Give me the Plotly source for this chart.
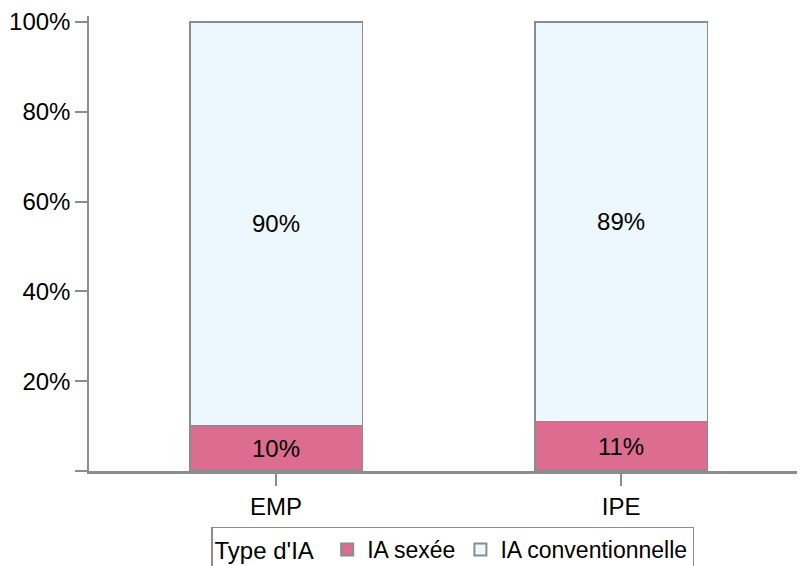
import plotly.graph_objects as go

# Data
categories = ['EMP', 'IPE']
ia_sexee = [10, 11]
ia_conventionnelle = [90, 89]
series_names = ['IA sexée', 'IA conventionnelle']
y_ticks = [0, 20, 40, 60, 80, 100]
y_tick_labels = ['', '20%', '40%', '60%', '80%', '100%']

FONT = 'Liberation Sans, Arial, sans-serif'
GREY = '#8c8c8c'

fig = go.Figure()

fig.add_trace(go.Bar(
    x=categories,
    y=ia_sexee,
    name=series_names[0],
    marker=dict(color='#DC6D90', line=dict(color=GREY, width=1.5)),
    text=[f'{v}%' for v in ia_sexee],
    textposition='inside',
    insidetextanchor='middle',
    textfont=dict(color='black', size=24, family=FONT),
    width=0.5
))

fig.add_trace(go.Bar(
    x=categories,
    y=ia_conventionnelle,
    name=series_names[1],
    marker=dict(color='#ECF7FE', line=dict(color=GREY, width=1.5)),
    text=[f'{v}%' for v in ia_conventionnelle],
    textposition='inside',
    insidetextanchor='middle',
    textfont=dict(color='black', size=24, family=FONT),
    width=0.5
))

# the page body adds an 8px margin, so the figure is 8px smaller than the window
fig.update_layout(
    barmode='stack',
    width=797,
    height=558,
    margin=dict(l=81, r=0, t=8, b=94.5, autoexpand=False),
    paper_bgcolor='white',
    plot_bgcolor='white',
    font=dict(family=FONT, size=24, color='black'),
    showlegend=True,
    legend=dict(
        orientation='h',
        x=0.5077,
        xanchor='center',
        y=-0.122,
        yanchor='top',
        title=dict(text="Type d'IA ", font=dict(size=24)),
        font=dict(size=23),
        bordercolor=GREY,
        borderwidth=1.5,
        traceorder='normal',
        itemsizing='constant',
        tracegroupgap=0
    ),
    uniformtext=dict(minsize=24, mode='show'),
    xaxis=dict(
        range=[-0.542, 1.533],
        automargin=False,
        showline=True,
        linecolor=GREY,
        linewidth=2.5,
        ticks='outside',
        ticklen=12,
        tickcolor=GREY,
        tickwidth=1.5,
        tickfont=dict(size=24),
        showgrid=False,
        zeroline=False
    ),
    yaxis=dict(
        range=[0, 101.3],
        automargin=False,
        tickvals=y_ticks,
        ticktext=y_tick_labels,
        showline=True,
        linecolor=GREY,
        linewidth=1.5,
        ticks='outside',
        ticklen=12,
        tickcolor=GREY,
        tickwidth=1.5,
        tickfont=dict(size=24),
        showgrid=False,
        zeroline=False
    )
)

fig.write_html('out.html')
